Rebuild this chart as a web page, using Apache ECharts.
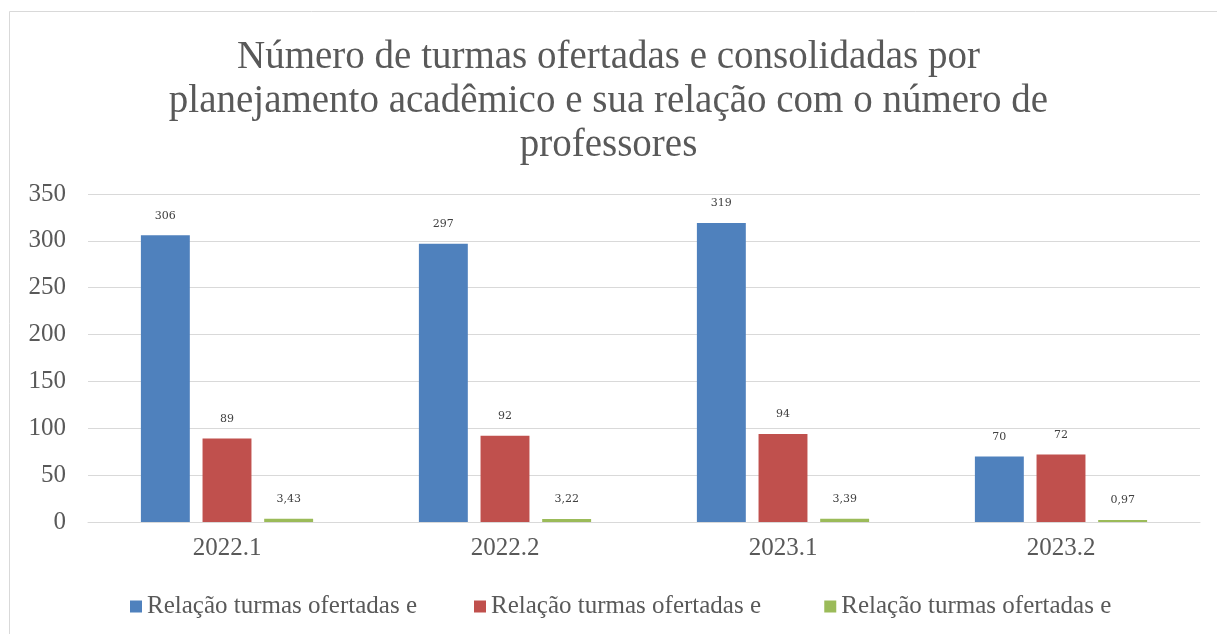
<!DOCTYPE html>
<html><head><meta charset="utf-8">
<script src="https://cdn.jsdelivr.net/npm/echarts@6/dist/echarts.min.js"></script>
<style>html,body{margin:0;padding:0;background:#fff}#c{width:1217px;height:634px}</style>
</head><body><div id="c"></div>
<script>
const categories = ['2022.1', '2022.2', '2023.1', '2023.2'];
const seriesNames = ['Relação turmas ofertadas e', 'Relação turmas ofertadas e ', 'Relação turmas ofertadas e  '];
const ofertadas = [306, 297, 319, 70];
const consolidadas = [89, 92, 94, 72];
const relacao = [3.43, 3.22, 3.39, 0.97];
const yTicks = [0, 50, 100, 150, 200, 250, 300, 350];
const colors = ['#4F81BD', '#C0504D', '#9BBB59'];
const serif = 'Liberation Serif';

const chart = echarts.init(document.getElementById('c'));
const lbl = {
  show: true, position: 'top', distance: 14, color: '#404040', fontFamily: 'DejaVu Serif', fontSize: 11,
  formatter: p => String(p.value).replace('.', ',')
};
chart.setOption({
  animation: false,
  graphic: [{ type: 'rect', shape: { x: 9.5, y: 11.5, width: 1300, height: 700 }, style: { fill: 'none', stroke: '#d9d9d9', lineWidth: 1 } }],
  title: {
    text: 'Número de turmas ofertadas e consolidadas por\nplanejamento acadêmico e sua relação com o número de\nprofessores',
    left: 'center', top: 31,
    textStyle: { fontFamily: serif, fontWeight: 'normal', fontSize: 39, lineHeight: 44, color: '#595959' }
  },
  grid: { left: 88, right: 17, top: 194, bottom: 112 },
  legend: {
    bottom: 10, left: 125, itemWidth: 12, itemHeight: 12, itemGap: 57, icon: 'rect',
    textStyle: { fontFamily: serif, fontSize: 25, color: '#595959' },
    data: seriesNames
  },
  xAxis: {
    type: 'category', data: categories,
    axisLine: { lineStyle: { color: '#d9d9d9' } }, axisTick: { show: false },
    axisLabel: { fontFamily: serif, fontSize: 25, color: '#595959', margin: 14 }
  },
  yAxis: {
    type: 'value', min: 0, max: 350, interval: 50,
    axisLine: { show: false }, axisTick: { show: false },
    splitLine: { lineStyle: { color: '#d9d9d9' } },
    axisLabel: { fontFamily: serif, fontSize: 25, color: '#595959', margin: 22,
      formatter: v => yTicks.includes(v) ? String(v) : '' }
  },
  series: [
    { name: seriesNames[0], type: 'bar', data: ofertadas, barWidth: '17.6%', barGap: '26%', barMinHeight: 2, itemStyle: { color: colors[0] }, label: lbl },
    { name: seriesNames[1], type: 'bar', data: consolidadas, barWidth: '17.6%', barGap: '26%', barMinHeight: 2, itemStyle: { color: colors[1] }, label: lbl },
    { name: seriesNames[2], type: 'bar', data: relacao, barWidth: '17.6%', barGap: '26%', barMinHeight: 2, itemStyle: { color: colors[2] }, label: lbl }
  ]
});
</script></body></html>
